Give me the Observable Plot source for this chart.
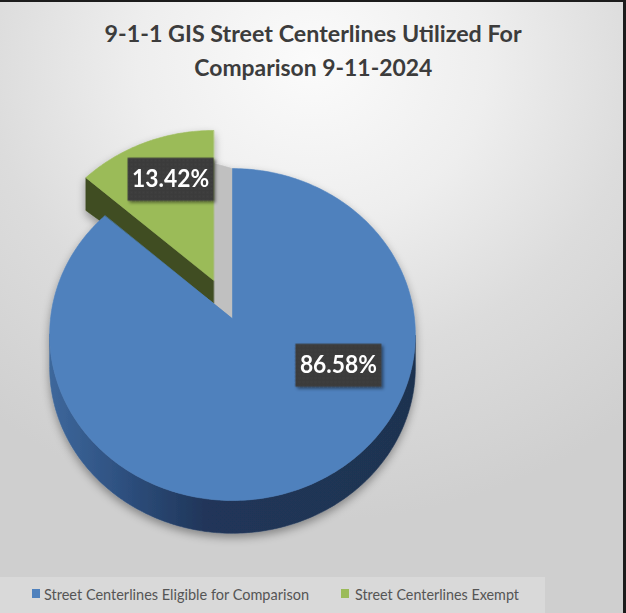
<!DOCTYPE html>
<html><head><meta charset="utf-8">
<script src="https://cdn.jsdelivr.net/npm/d3@7"></script>
<script src="https://cdn.jsdelivr.net/npm/@observablehq/plot@0.6"></script>
<style>
html,body{margin:0;padding:0;background:#fff;}
#wrap{position:relative;width:626px;height:613px;overflow:hidden;
  background: radial-gradient(ellipse 80% 75% at 50% 10%, #fbfbfb 0%, #eeeeee 35%, #dcdcdc 65%, #cfcfcf 100%);
  font-family: Lato, "Open Sans", sans-serif;}
#wrap::after{content:"";position:absolute;left:0;top:0;right:0;bottom:0;
  box-shadow: inset 0 2px 0 #1c1c1c, inset -3px 0 0 #1c1c1c;pointer-events:none;}
#title{position:absolute;top:17px;left:0;width:626px;text-align:center;font-weight:700;
  font-size:22px;line-height:34px;color:#3c3c3c;}
#title span{display:inline-block;white-space:nowrap;transform-origin:50% 50%;}
#chart{position:absolute;top:100px;left:0;}
#legend{position:absolute;top:577px;left:0;width:545px;height:36px;background:#d9d9d9;}
.sw{position:absolute;top:12px;width:8px;height:9px;}
.lt{position:absolute;top:8px;font-size:16px;line-height:18px;color:#555;white-space:nowrap;transform-origin:0 50%;}
</style>
</head><body>
<div id="wrap">
  <div id="title"></div>
  <div id="chart"></div>
  <div id="legend"></div>
</div>
<script>
// ---- data ----
const titleLines = ["9-1-1 GIS Street Centerlines Utilized For", "Comparison 9-11-2024"];
const categories = ["Street Centerlines Eligible for Comparison", "Street Centerlines Exempt"];
const percents = [86.58, 13.42];
const labels = ["86.58%", "13.42%"];
const colors = ["#4f81bd", "#9bbb59"];

// ---- layout / style constants ----
const sideColor = "#1f3350", wallColor = "#3f4d21", gapColor = "#c0c0c0";
const labelAngles = [116, 339];   // label anchor angle (deg clockwise from 12 o'clock)
const labelRadii = [0.63, 0.70];
const explode = [0, 0.26];
const DEPTH_RIM = 0.18, DEPTH_APEX = 0.125;
const ELEV = 64.6 * Math.PI / 180, S = Math.sin(ELEV), C = Math.cos(ELEV), DIST = 4.44;

// title
const title = d3.select("#title");
const titleWidths = [417, 238];
titleLines.forEach((t, i) => { title.append("span").text(t); if (i < titleLines.length - 1) title.append("br"); });

// ---- geometry from values ----
function proj(X, Z) { const k = DIST / (DIST + C * Z); return [X * k, S * Z * k]; }
function rimPt(deg, r = 1) { const a = deg * Math.PI / 180; return proj(r * Math.sin(a), r * Math.cos(a)); }
function arc(a0, a1) { const n = Math.max(2, Math.ceil(Math.abs(a1 - a0))); return d3.range(n + 1).map(i => a0 + (a1 - a0) * i / n); }

const total = d3.sum(percents);
const ends = Array.from(d3.cumsum(percents), v => v / total * 360);
const starts = [0, ...ends.slice(0, -1)];

const polys = {};
const P = (p, sh = [0, 0], dv = 0) => ({u: p[0] + sh[0], v: p[1] + sh[1] - dv});

const shifts = percents.map((_, i) => {
  const mid = (starts[i] + ends[i]) / 2 * Math.PI / 180;
  return explode[i] ? proj(explode[i] * Math.sin(mid), explode[i] * Math.cos(mid)) : [0, 0];
});

// slice 0 (blue)
{
  const sh = shifts[0];
  const angs = arc(starts[0], ends[0]);
  polys.blueTop = [P([0, 0], sh), ...angs.map(a => P(rimPt(a), sh))];
  const us = angs.map(a => rimPt(a)[0]);
  const aR = angs[d3.maxIndex(us)], aL = angs[d3.minIndex(us)];
  const vis = arc(aR, aL);
  polys.blueSide = [...vis.map(a => P(rimPt(a), sh)), ...vis.slice().reverse().map(a => P(rimPt(a), sh, DEPTH_RIM))];
}
// slice 1 (green)
{
  const sh = shifts[1];
  const angs = arc(starts[1], ends[1]);
  polys.greenTop = [P([0, 0], sh), ...angs.map(a => P(rimPt(a), sh))];
  const r0 = rimPt(starts[1]);
  polys.greenWall = [P([0, 0], sh), P(r0, sh), P(r0, sh, DEPTH_RIM), P([0, 0], sh, DEPTH_APEX)];
  polys.gap = [P([0, 0], sh, DEPTH_APEX), P([0, 0], shifts[0]), P(rimPt(ends[1]), shifts[0]), P(rimPt(ends[1]), sh, DEPTH_RIM)];
}

const labelData = percents.map((p, i) => {
  const q = rimPt(labelAngles[i], labelRadii[i]);
  return {u: q[0] + shifts[i][0], v: q[1] + shifts[i][1], label: labels[i]};
});

const boxSymbol = { draw(ctx) { ctx.rect(-43, -21.5, 86, 43); } };

const poly = (data, fill) => Plot.line(data, {x: "u", y: "v", fill, stroke: fill, strokeWidth: 0.6, curve: "linear-closed"});

const svg = Plot.plot({
  width: 626, height: 477, margin: 0,
  style: {background: "transparent", overflow: "visible"},
  x: {domain: [-1, 1], range: [50, 414], axis: null},
  y: {domain: [-1, 1], range: [400, 36], axis: null},
  marks: [
    poly(polys.gap, gapColor),
    poly(polys.greenWall, wallColor),
    poly(polys.greenTop, colors[1]),
    poly(polys.blueSide, "url(#blueSideGrad)"),
    poly(polys.blueTop, colors[0]),
    Plot.dot(labelData, {x: "u", y: "v", symbol: boxSymbol, fill: "url(#dots)", stroke: "none"}),
    Plot.text(labelData, {x: "u", y: "v", text: "label", fill: "white", fontSize: 25, fontWeight: "bold", fontFamily: "Lato, 'Open Sans', sans-serif"})
  ]
});
document.getElementById("chart").append(svg);
const groups = Array.from(svg.querySelectorAll(":scope > g"));

// defs: gradient, pattern, shadows
const sel = d3.select(svg);
const defs = sel.insert("defs", ":first-child");
const g = defs.append("linearGradient").attr("id", "blueSideGrad").attr("gradientUnits", "userSpaceOnUse")
  .attr("x1", 50).attr("x2", 414).attr("y1", 0).attr("y2", 0);
[[0, "#3d679b"], [0.18, "#2f5282"], [0.42, "#20365a"], [1, sideColor]].forEach(([o, c]) => g.append("stop").attr("offset", o).attr("stop-color", c));
const pat = defs.append("pattern").attr("id", "dots").attr("patternUnits", "userSpaceOnUse").attr("width", 4).attr("height", 4);
pat.append("rect").attr("width", 4).attr("height", 4).attr("fill", "#3b3b3b");
pat.append("circle").attr("cx", 1).attr("cy", 1).attr("r", 0.6).attr("fill", "#4e4e4e");
const f1 = defs.append("filter").attr("id", "pieShadow").attr("x", "-20%").attr("y", "-20%").attr("width", "140%").attr("height", "140%");
f1.append("feDropShadow").attr("dx", 0).attr("dy", 4).attr("stdDeviation", 4).attr("flood-color", "#000").attr("flood-opacity", 0.35);
const f2 = defs.append("filter").attr("id", "boxShadow").attr("x", "-20%").attr("y", "-30%").attr("width", "150%").attr("height", "170%");
f2.append("feDropShadow").attr("dx", 2).attr("dy", 2).attr("stdDeviation", 1.5).attr("flood-color", "#000").attr("flood-opacity", 0.45);

const pieG = document.createElementNS("http://www.w3.org/2000/svg", "g");
pieG.setAttribute("filter", "url(#pieShadow)");
svg.insertBefore(pieG, groups[0]);
groups.slice(0, 5).forEach(el => pieG.append(el));
groups[5].setAttribute("filter", "url(#boxShadow)");
groups[6].querySelectorAll("text").forEach(t => { t.setAttribute("textLength", 77); t.setAttribute("lengthAdjust", "spacingAndGlyphs"); });

// legend
const legend = d3.select("#legend");
const swX = [32, 341], txX = [44, 355], txW = [265, 164];
categories.forEach((c, i) => {
  legend.append("div").attr("class", "sw").style("left", swX[i] + "px").style("background", colors[i]);
  legend.append("div").attr("class", "lt").style("left", txX[i] + "px").text(c);
});

// fit text widths
title.selectAll("span").each(function(_, i) {
  const w = this.getBoundingClientRect().width;
  this.style.transform = `scaleX(${titleWidths[i] / w})`;
});
legend.selectAll(".lt").each(function(_, i) {
  const w = this.getBoundingClientRect().width;
  this.style.transform = `scaleX(${txW[i] / w})`;
});
</script>
</body></html>
